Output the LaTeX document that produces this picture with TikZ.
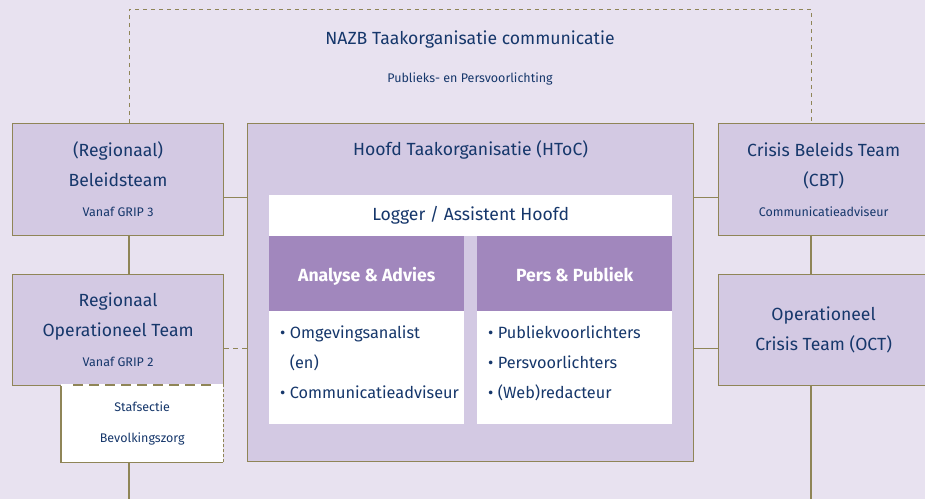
\documentclass[tikz,border=0pt]{standalone}
\usepackage{fontspec}
\setmainfont{Fira Sans}
\usetikzlibrary{positioning}

\definecolor{achtergrond}{HTML}{E8E2F0}
\definecolor{vakpaars}{HTML}{D3C9E3}
\definecolor{kopaars}{HTML}{A187BD}
\definecolor{olijf}{HTML}{8F8557}
\definecolor{marine}{HTML}{16376B}

\newcommand\groot{\fontsize{17.6}{30}\selectfont}
\newcommand\lijsttekst{\fontsize{16.3}{30}\selectfont}
\newcommand\klein{\fontsize{12.5}{31}\selectfont}

\tikzset{
    team/.style={draw=olijf, line width=1.2pt, fill=vakpaars, anchor=north west,
        inner sep=0pt, align=center, text=marine, font=\groot},
    wit/.style={fill=white, anchor=north west, inner sep=0pt, text=marine, font=\groot},
    kop/.style={fill=kopaars, anchor=north west, inner sep=0pt, text=white,
        text height=15pt, text depth=0pt, font=\fontsize{17.6}{30}\selectfont\bfseries},
    lijst/.style={inner sep=0pt, align=left, text=marine, font=\lijsttekst},
    lijn/.style={draw=olijf, line width=1.2pt},
    kader/.style={draw=olijf, line width=0.8pt, dash pattern=on 4pt off 4pt},
}

\begin{document}
\begin{tikzpicture}[x=1pt, y=-1pt]
            \useasboundingbox (0,0) rectangle (925,499);
            \fill[achtergrond] (0,0) rectangle (925,499);
            \clip (0,0) rectangle (925,499);

            \coordinate (lspine) at (129,0);
            \coordinate (rspine) at (811,0);
            \coordinate (londer) at (129,499);
            \coordinate (ronder) at (811,499);
            \coordinate (kadertop) at (470,9);

            \node[text=marine, font=\groot] (nazb) at (470,40) {NAZB Taakorganisatie communicatie};
            \node[text=marine, font=\klein] (pers) at (470,79) {Publieks- en Persvoorlichting};

            \node[team, minimum width=211pt, minimum height=112pt] (rbt) at (12,123)
                {(Regionaal)\\Beleidsteam\\{\klein Vanaf GRIP 3}};
            \node[team, minimum width=211pt, minimum height=111pt] (rot) at (12,274)
                {Regionaal\\Operationeel Team\\{\klein Vanaf GRIP 2}};
            \node[wit, align=center, font=\klein, minimum width=162pt, minimum height=77pt] (staf) at (61,385)
                {Stafsectie\\Bevolkingszorg};

            \node[team, minimum width=446pt, minimum height=338pt] (htoc) at (247,123) {};
            \node[text=marine, font=\groot] (htoctitel) at ([yshift=-27pt]htoc.north) {Hoofd Taakorganisatie (HToC)};
            \node[wit, minimum width=403pt, minimum height=41pt] (logger) at (269,195) {Logger / Assistent Hoofd};
            \node[kop, minimum width=195pt, minimum height=75pt] (analyse) at (269,236) {Analyse \& Advies};
            \node[kop, minimum width=195pt, minimum height=75pt] (perspub) at (477,236) {Pers \& Publiek};
            \node[wit, minimum width=195pt, minimum height=113pt] (analysevak) at (269,311) {};
            \node[wit, minimum width=195pt, minimum height=113pt] (perspubvak) at (477,311) {};
            \node[lijst, below right=15pt and 11pt of analysevak.north west] (analyselijst)
                {\textbullet\ Omgevingsanalist\\\phantom{\textbullet\ }(en)\\\textbullet\ Communicatieadviseur};
            \node[lijst, below right=15pt and 11pt of perspubvak.north west] (perspublijst)
                {\textbullet\ Publiekvoorlichters\\\textbullet\ Persvoorlichters\\\textbullet\ (Web)redacteur};

            \node[team, minimum width=210pt, minimum height=112pt] (cbt) at (718,123)
                {Crisis Beleids Team\\(CBT)\\{\klein Communicatieadviseur}};
            \node[team, minimum width=210pt, minimum height=111pt] (oct) at (718,274)
                {Operationeel\\Crisis Team (OCT)};

            \draw[kader] (rbt.north -| lspine) |- (kadertop) -| (cbt.north -| rspine);

            \draw[lijn] (rbt.south -| lspine) -- (rot.north -| lspine);
            \draw[lijn] (staf.south -| lspine) -- (londer);
            \draw[lijn] (cbt.south -| rspine) -- (oct.north -| rspine);
            \draw[lijn] (oct.south -| rspine) -- (ronder);

            \draw[lijn] ([yshift=-18pt]rbt.east) -- ([yshift=-18pt]rbt.east -| htoc.west);
            \draw[lijn, dash pattern=on 5pt off 4pt] ([yshift=-18.5pt]rot.east) -- ([yshift=-18.5pt]rot.east -| htoc.west);
            \draw[lijn] ([yshift=-18pt]cbt.west) -- ([yshift=-18pt]cbt.west -| htoc.east);
            \draw[lijn] ([yshift=-18.5pt]oct.west) -- ([yshift=-18.5pt]oct.west -| htoc.east);

            \draw[lijn] (staf.north west) -- (staf.south west) -- (staf.south east);
            \draw[olijf, line width=0.6pt, dash pattern=on 3pt off 2pt] (staf.south east) -- (staf.north east);
            \draw[white, line width=2.6pt] (staf.north west) -- (staf.north east);
            \draw[olijf, line width=2.6pt, dash pattern=on 10pt off 6pt] ([xshift=12pt]staf.north west) -- ([xshift=-8pt]staf.north east);
        \end{tikzpicture}
\end{document}
